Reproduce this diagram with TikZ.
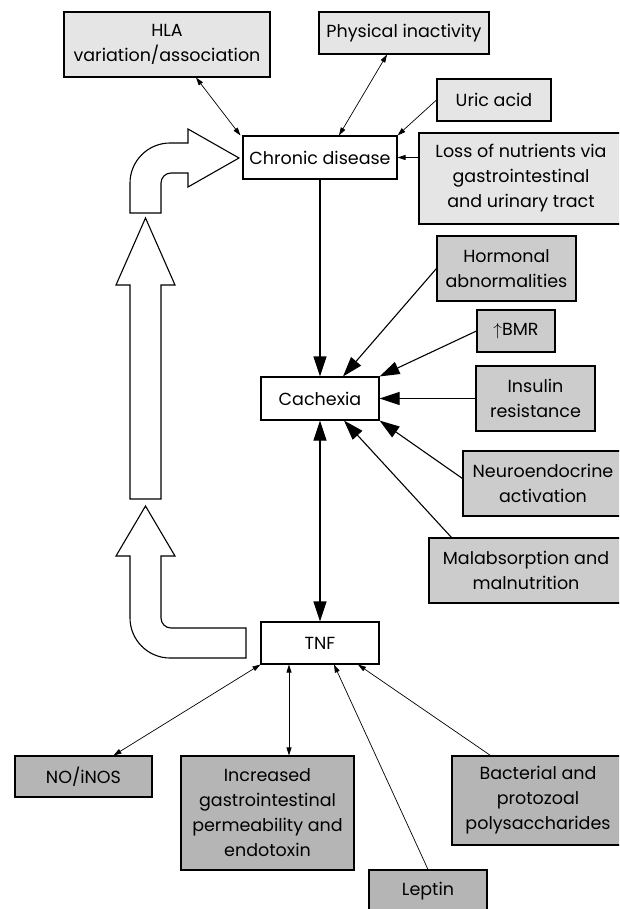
\documentclass[tikz,border=0pt]{standalone}
\usepackage{fontspec}
\setmainfont{Poppins}
\usetikzlibrary{arrows.meta}

\definecolor{lightfill}{gray}{0.9}
\definecolor{midfill}{gray}{0.8}
\definecolor{darkfill}{gray}{0.71}

\begin{document}
\begin{tikzpicture}[x=1pt,y=-1pt,
	box/.style={draw,line width=1.1pt,inner sep=0pt,align=center,font=\fontsize{17.5}{25}\selectfont},
	plain/.style={box,fill=white},
	light/.style={box,fill=lightfill},
	mid/.style={box,fill=midfill},
	dark/.style={box,fill=darkfill},
	thin link/.style={line width=0.7pt,-{Triangle[length=8pt,width=5pt]}},
	thin both/.style={thin link,{Triangle[length=8pt,width=5pt]}-{Triangle[length=8pt,width=5pt]}},
	big link/.style={line width=1.1pt,-{Triangle[length=20pt,width=13pt]}},
	big both/.style={big link,{Triangle[length=20pt,width=13pt]}-{Triangle[length=20pt,width=13pt]}},
	hollow/.style={draw,line width=1.1pt,fill=white}]
	\useasboundingbox (0,0) rectangle (619,909);
	\clip (0,0) rectangle (619,909);

	\node[light,minimum width=206pt,minimum height=65pt] (hla) at (167,44.5) {HLA\\variation/association};
	\node[light,minimum width=170pt,minimum height=42pt] (phys) at (404,33) {Physical inactivity};
	\node[light,minimum width=114pt,minimum height=42pt] (uric) at (494,100) {Uric acid};
	\node[plain,minimum width=154pt,minimum height=43pt] (chronic) at (320,157.5) {Chronic disease};
	\node[light,minimum width=204pt,minimum height=91pt] (loss) at (521,178.5) {Loss of nutrients via\\gastrointestinal\\and urinary tract};

	\node[mid,minimum width=139pt,minimum height=65pt] (horm) at (506.5,268.5) {Hormonal\\abnormalities};
	\node[mid,minimum width=78pt,minimum height=42pt] (bmr) at (516,331) {$\uparrow$BMR};
	\node[mid,minimum width=119pt,minimum height=65pt] (insulin) at (535.5,398.5) {Insulin\\resistance};
	\node[plain,minimum width=118pt,minimum height=43pt] (cachexia) at (320,398.5) {Cachexia};
	\node[mid,minimum width=160pt,minimum height=65pt] (neuro) at (543,483.5) {Neuroendocrine\\activation};
	\node[mid,minimum width=194pt,minimum height=65pt] (malab) at (526,570.5) {Malabsorption and\\malnutrition};

	\node[plain,minimum width=118pt,minimum height=42pt] (tnf) at (320,643) {TNF};
	\node[dark,minimum width=137pt,minimum height=41pt] (noinos) at (83.5,776.5) {NO/iNOS};
	\node[dark,minimum width=173pt,minimum height=114pt] (incr) at (267.5,813) {Increased\\gastrointestinal\\permeability and\\endotoxin};
	\node[dark,minimum width=118pt,minimum height=42pt] (leptin) at (428,891) {Leptin};
	\node[dark,minimum width=172pt,minimum height=89pt] (bact) at (538,800.5) {Bacterial and\\protozoal\\polysaccharides};

	\draw[thin both] ([xshift=29pt]hla.south) -- ([xshift=-2pt]chronic.north west);
	\draw[thin both] ([xshift=-17pt]phys.south) -- ([xshift=19pt]chronic.north);
	\draw[thin link] (uric.west) -- (chronic.north east);
	\draw[thin link] (loss.west |- chronic.east) -- (chronic.east);

	\draw[big link] (chronic.south) -- (cachexia.north);
	\draw[big link] (horm.west) -- ([xshift=23pt]cachexia.north);
	\draw[big link] (bmr.west) -- (cachexia.north east);
	\draw[big link] (insulin.west) -- (cachexia.east);
	\draw[big link] ([yshift=5pt]neuro.west) -- (cachexia.south east);
	\draw[big link] ([xshift=23pt]malab.north west) -- ([xshift=24pt]cachexia.south);
	\draw[big both] (cachexia.south) -- (tnf.north);

	\draw[thin both] (tnf.south west) -- ([xshift=30pt]noinos.north);
	\draw[thin both] ([xshift=-31pt]tnf.south) -- ([xshift=-31pt]tnf.south |- incr.north);
	\draw[thin link] (leptin.north) -- ([xshift=14pt]tnf.south);
	\draw[thin link] ([xshift=39pt]bact.north west) -- ([xshift=38pt]tnf.south);

	\draw[hollow] (130,213) -- (130,183) .. controls (130,161) and (148,143) .. (170,143) -- (188,143) -- (188,129) -- (239,158)
		-- (188,187) -- (188,173) -- (171,173) .. controls (165.5,173) and (161,177.5) .. (161,183) -- (161,213) -- cycle;
	\draw[hollow] (130,499) -- (130,285) -- (116,285) -- (145.5,218) -- (175,285) -- (161,285) -- (161,499) -- cycle;
	\draw[hollow] (130,556) -- (116,556) -- (145.5,506) -- (175,556) -- (161,556) -- (161,618) .. controls (161,623.5) and (165.5,628) .. (171,628)
		-- (246,628) -- (246,658) -- (170,658) .. controls (148,658) and (130,640) .. (130,618) -- cycle;
\end{tikzpicture}
\end{document}
